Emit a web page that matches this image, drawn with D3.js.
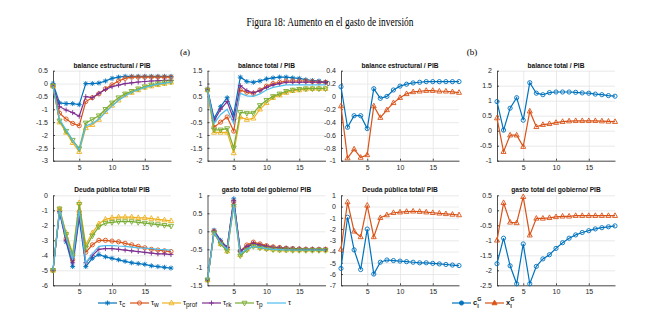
<!DOCTYPE html>
<html>
<head>
<meta charset="utf-8">
<script src="https://cdn.jsdelivr.net/npm/d3@7"></script>
<style>
  body { margin: 0; background: #fff; }
  text { font-family: "Liberation Sans", Arial, sans-serif; }
</style>
</head>
<body>
<div id="chart"></div>
<script>
// periods on the x axis
const periods = [1,2,3,4,5,6,7,8,9,10,11,12,13,14,15,16,17,18,19];
const xTicks = [5, 10, 15];

// panel (a) series order: tau_c, tau_w, tau_prof, tau_rk, tau_p, tau
const seriesA = ["c", "w", "prof", "rk", "p", ""];
const colorsA = ["#0072BD", "#D95319", "#EDB120", "#7E2F8E", "#77AC30", "#4DBEEE"];
const markersA = ["star", "circle", "triUp", "plus", "triDown", "none"];

const balEstA = [
  [0,-0.75,-0.78,-0.78,-0.82,0,0,0.02,0.1,0.2,0.25,0.28,0.28,0.28,0.28,0.28,0.28,0.28,0.28],
  [-0.1,-1.15,-1.38,-1.55,-1.64,-0.7,-0.55,-0.4,-0.2,-0.05,0.1,0.2,0.25,0.25,0.25,0.25,0.25,0.25,0.25],
  [-0.1,-1.5,-1.9,-2.3,-2.65,-1.72,-1.6,-1.4,-1.1,-0.85,-0.65,-0.45,-0.35,-0.25,-0.15,-0.1,-0.05,0,0.05],
  [-0.1,-0.9,-1.03,-1.13,-1.27,-0.51,-0.55,-0.38,-0.23,-0.12,-0.06,0,0.03,0.06,0.08,0.1,0.11,0.12,0.12],
  [-0.1,-1.45,-1.85,-2.2,-2.53,-1.53,-1.4,-1.25,-1.0,-0.75,-0.55,-0.4,-0.3,-0.2,-0.12,-0.05,0,0.04,0.07],
  [-0.1,-1.4,-1.8,-2.2,-2.58,-1.65,-1.55,-1.38,-1.12,-0.88,-0.65,-0.48,-0.34,-0.24,-0.15,-0.08,-0.02,0.02,0.05]
];
const balTotA = [
  [0.78,-0.35,0.1,0.45,-0.2,1.25,1.08,1.05,1.1,1.18,1.22,1.25,1.25,1.22,1.2,1.15,1.12,1.1,1.05],
  [0.75,-0.7,-0.5,-0.3,-0.85,0.75,0.66,0.62,0.75,0.9,1.0,1.05,1.1,1.1,1.1,1.1,1.08,1.05,1.05],
  [0.75,-0.9,-0.9,-0.9,-1.7,-0.3,-0.4,-0.35,0,0.25,0.45,0.55,0.65,0.72,0.75,0.78,0.8,0.8,0.8],
  [0.75,-0.45,0,0.3,-0.4,0.92,0.72,0.64,0.72,0.85,0.95,1.0,1.05,1.05,1.05,1.05,1.05,1.05,1.05],
  [0.75,-0.8,-0.8,-0.75,-1.5,-0.12,-0.15,-0.15,0.15,0.35,0.5,0.6,0.7,0.75,0.78,0.8,0.8,0.8,0.8],
  [0.75,-0.55,-0.2,0,-0.55,0.62,0.52,0.5,0.6,0.75,0.85,0.9,0.95,0.95,0.95,0.95,0.95,0.95,0.95]
];
const deudaA = [
  [-5,-1.1,-3.1,-4.75,-1.5,-4.75,-4.2,-3.95,-4.1,-4.2,-4.3,-4.4,-4.5,-4.55,-4.6,-4.7,-4.75,-4.8,-4.85],
  [-5,-1,-2.9,-4.3,-1.1,-3.8,-3.3,-3.0,-3.0,-3.05,-3.1,-3.2,-3.3,-3.4,-3.5,-3.6,-3.65,-3.7,-3.75],
  [-5,-0.9,-2.5,-3.9,-0.5,-3.3,-2.5,-1.9,-1.6,-1.5,-1.45,-1.45,-1.45,-1.5,-1.5,-1.55,-1.6,-1.65,-1.7],
  [-5,-1.1,-3.0,-4.5,-1.3,-4.5,-4.0,-3.6,-3.55,-3.55,-3.6,-3.65,-3.7,-3.75,-3.8,-3.85,-3.9,-3.9,-3.95],
  [-5,-0.9,-2.6,-4.0,-0.6,-3.5,-2.7,-2.1,-1.85,-1.8,-1.75,-1.75,-1.75,-1.8,-1.85,-1.9,-1.95,-2.0,-2.05],
  [-5,-1,-2.8,-4.3,-1.0,-4.5,-3.9,-3.4,-3.35,-3.35,-3.38,-3.4,-3.45,-3.5,-3.52,-3.55,-3.6,-3.62,-3.65]
];
const gastoA = [
  [-1.35,0.03,-0.25,-0.45,0.9,-0.55,-0.45,-0.35,-0.4,-0.42,-0.45,-0.46,-0.47,-0.48,-0.49,-0.5,-0.5,-0.5,-0.5],
  [-1.35,0,-0.3,-0.45,0.82,-0.55,-0.38,-0.3,-0.35,-0.4,-0.43,-0.45,-0.47,-0.48,-0.49,-0.5,-0.5,-0.5,-0.5],
  [-1.35,-0.05,-0.35,-0.55,0.72,-0.65,-0.5,-0.4,-0.45,-0.48,-0.5,-0.52,-0.52,-0.52,-0.52,-0.52,-0.52,-0.52,-0.52],
  [-1.35,0,-0.28,-0.45,0.85,-0.55,-0.42,-0.33,-0.38,-0.42,-0.45,-0.47,-0.48,-0.49,-0.5,-0.5,-0.5,-0.51,-0.51],
  [-1.35,-0.05,-0.35,-0.55,0.7,-0.68,-0.52,-0.42,-0.46,-0.49,-0.51,-0.52,-0.52,-0.53,-0.53,-0.53,-0.53,-0.53,-0.53],
  [-1.35,-0.03,-0.32,-0.5,0.75,-0.62,-0.5,-0.42,-0.45,-0.48,-0.5,-0.51,-0.52,-0.52,-0.52,-0.52,-0.52,-0.52,-0.52]
];

// panel (b) series order: c_I^G, x_I^G
const colorsB = ["#0072BD", "#D95319"];
const markersB = ["circle", "triUp"];

const balEstB = [
  [0.15,-0.48,-0.3,-0.3,-0.5,0.12,-0.03,0,0.1,0.16,0.19,0.21,0.22,0.23,0.23,0.23,0.23,0.23,0.23],
  [-0.15,-0.96,-0.82,-0.95,-0.91,-0.15,-0.33,-0.21,-0.1,-0.02,0.04,0.07,0.08,0.09,0.09,0.08,0.08,0.07,0.06]
];
const balTotB = [
  [0.97,0.02,0.75,1.1,0.35,1.6,1.25,1.2,1.27,1.29,1.29,1.29,1.28,1.26,1.25,1.22,1.2,1.17,1.15],
  [0.42,-0.7,-0.15,-0.15,-0.53,0.65,0.13,0.2,0.23,0.27,0.3,0.32,0.33,0.33,0.33,0.33,0.32,0.31,0.3]
];
const deudaB = [
  [-5.5,-0.95,-3.85,-5.6,-2.0,-6.0,-4.95,-4.75,-4.8,-4.85,-4.9,-4.95,-5.0,-5.0,-5.05,-5.1,-5.15,-5.2,-5.25],
  [-3.8,0.4,-2.2,-2.7,0.1,-2.7,-1.0,-0.75,-0.55,-0.5,-0.45,-0.42,-0.45,-0.5,-0.55,-0.6,-0.65,-0.7,-0.75]
];
const gastoB = [
  [-1.78,-0.93,-1.85,-2.45,-1.12,-2.45,-1.87,-1.62,-1.48,-1.27,-1.08,-0.93,-0.82,-0.74,-0.68,-0.62,-0.58,-0.55,-0.52],
  [-1.0,0.25,-0.4,-0.42,0.45,-0.83,-0.27,-0.27,-0.25,-0.22,-0.2,-0.2,-0.18,-0.18,-0.18,-0.18,-0.18,-0.18,-0.18]
];

const width = 659, height = 327;
const pw = 118, ph = 90;

const svg = d3.select("#chart").append("svg")
  .attr("width", width).attr("height", height);

function markerPath(type, r) {
  if (type === "circle") return d3.symbol(d3.symbolCircle, Math.PI * r * r)();
  if (type === "triUp") return `M0,${-r * 1.15}L${r},${r * 0.7}L${-r},${r * 0.7}Z`;
  if (type === "triDown") return `M0,${r * 1.15}L${r},${-r * 0.7}L${-r},${-r * 0.7}Z`;
  if (type === "plus") return `M${-r},0L${r},0M0,${-r}L0,${r}`;
  if (type === "star") {
    const d = r * 0.72;
    return `M${-r},0L${r},0M0,${-r}L0,${r}M${-d},${-d}L${d},${d}M${-d},${d}L${d},${-d}`;
  }
  return "";
}

function fmt(v) {
  return String(+v.toFixed(2));
}

function drawPanel(cfg) {
  const g = svg.append("g");
  const x = d3.scaleLinear().domain([1, 19]).range([cfg.left, cfg.left + pw]);
  const y = d3.scaleLinear().domain(cfg.domain).range([cfg.top + ph, cfg.top]);
  const yTicks = d3.range(cfg.domain[0], cfg.domain[1] + cfg.step / 2, cfg.step);

  // grid
  g.append("g").attr("transform", `translate(${cfg.left},0)`)
    .call(d3.axisLeft(y).tickValues(yTicks).tickSize(-pw).tickFormat(""))
    .call(a => a.select(".domain").remove())
    .call(a => a.selectAll("line").attr("stroke", "#e4e4e4").attr("stroke-width", 0.8));
  g.append("g").attr("transform", `translate(0,${cfg.top + ph})`)
    .call(d3.axisBottom(x).tickValues(xTicks).tickSize(-ph).tickFormat(""))
    .call(a => a.select(".domain").remove())
    .call(a => a.selectAll("line").attr("stroke", "#e4e4e4").attr("stroke-width", 0.8));

  // axes
  const ya = g.append("g").attr("transform", `translate(${cfg.left},0)`)
    .call(d3.axisLeft(y).tickValues(yTicks).tickSizeInner(-2).tickSizeOuter(0).tickPadding(5).tickFormat(fmt));
  const xa = g.append("g").attr("transform", `translate(0,${cfg.top + ph})`)
    .call(d3.axisBottom(x).tickValues(xTicks).tickSizeInner(-2).tickSizeOuter(0).tickPadding(4).tickFormat(fmt));
  [ya, xa].forEach(a => {
    a.select(".domain").attr("stroke", "#262626").attr("stroke-width", 0.8);
    a.selectAll(".tick line").attr("stroke", "#262626").attr("stroke-width", 0.8);
    a.selectAll("text").attr("fill", "#262626").style("font-size", "7px");
  });

  g.append("text")
    .attr("x", cfg.left + pw / 2).attr("y", cfg.top - 3)
    .attr("text-anchor", "middle")
    .style("font-size", "6.6px").style("font-weight", "bold")
    .attr("fill", "#111")
    .text(cfg.title);

  const line = d3.line().x((d, i) => x(periods[i])).y(d => y(d));
  cfg.data.forEach((vals, k) => {
    const s = g.append("g");
    s.append("path").datum(vals)
      .attr("d", line)
      .attr("fill", "none")
      .attr("stroke", cfg.colors[k])
      .attr("stroke-width", 1.2);
    if (cfg.markers[k] !== "none") {
      s.selectAll("path.m").data(vals).join("path")
        .attr("class", "m")
        .attr("transform", (d, i) => `translate(${x(periods[i])},${y(d)})`)
        .attr("d", markerPath(cfg.markers[k], cfg.markers[k] === "circle" ? 2.1 : 2.5))
        .attr("fill", "none")
        .attr("stroke", cfg.colors[k])
        .attr("stroke-width", 0.9);
    }
  });
}

const topRow = 70.7, botRow = 195.3;
const colLeft = [53, 207.5, 341, 497];

drawPanel({ left: colLeft[0], top: topRow, domain: [-3, 0.5], step: 0.5, title: "balance estructural / PIB", data: balEstA, colors: colorsA, markers: markersA });
drawPanel({ left: colLeft[1], top: topRow, domain: [-2, 1.5], step: 0.5, title: "balance total / PIB", data: balTotA, colors: colorsA, markers: markersA });
drawPanel({ left: colLeft[2], top: topRow, domain: [-1, 0.4], step: 0.2, title: "balance estructural / PIB", data: balEstB, colors: colorsB, markers: markersB });
drawPanel({ left: colLeft[3], top: topRow, domain: [-1, 2], step: 0.5, title: "balance total / PIB", data: balTotB, colors: colorsB, markers: markersB });
drawPanel({ left: colLeft[0], top: botRow, domain: [-6, 0], step: 1, title: "Deuda pública total/ PIB", data: deudaA, colors: colorsA, markers: markersA });
drawPanel({ left: colLeft[1], top: botRow, domain: [-1.5, 1], step: 0.5, title: "gasto total del gobierno/ PIB", data: gastoA, colors: colorsA, markers: markersA });
drawPanel({ left: colLeft[2], top: botRow, domain: [-7, 1], step: 1, title: "Deuda pública total/ PIB", data: deudaB, colors: colorsB, markers: markersB });
drawPanel({ left: colLeft[3], top: botRow, domain: [-2.5, 0.5], step: 0.5, title: "gasto total del gobierno/ PIB", data: gastoB, colors: colorsB, markers: markersB });

// figure title and sub-labels
svg.append("text")
  .attr("x", 330).attr("y", 26)
  .attr("text-anchor", "middle")
  .style("font-family", "'Liberation Serif', 'DejaVu Serif', serif")
  .style("font-size", "12px")
  .attr("textLength", 167)
  .attr("lengthAdjust", "spacingAndGlyphs")
  .text("Figura 18: Aumento en el gasto de inversión");
[["(a)", 185], ["(b)", 472]].forEach(([t, cx]) => {
  svg.append("text")
    .attr("x", cx).attr("y", 55)
    .attr("text-anchor", "middle")
    .style("font-family", "'Liberation Serif', 'DejaVu Serif', serif")
    .style("font-size", "9px")
    .text(t);
});

// legend (a)
const legY = 303;
const legStartA = [98, 130, 162, 202, 235, 267];
seriesA.forEach((sub, k) => {
  const lx = legStartA[k];
  const item = svg.append("g");
  item.append("line")
    .attr("x1", lx).attr("x2", lx + 19).attr("y1", legY).attr("y2", legY)
    .attr("stroke", colorsA[k]).attr("stroke-width", 1.2);
  if (markersA[k] !== "none") {
    item.append("path")
      .attr("transform", `translate(${lx + 9.5},${legY})`)
      .attr("d", markerPath(markersA[k], markersA[k] === "circle" ? 2.1 : 2.5))
      .attr("fill", "none").attr("stroke", colorsA[k]).attr("stroke-width", 0.9);
  }
  const t = item.append("text")
    .attr("x", lx + 21).attr("y", legY + 2)
    .style("font-size", "7.5px").attr("fill", "#111");
  t.append("tspan").text("τ");
  if (sub) t.append("tspan").attr("dy", 2).style("font-size", "6.5px").text(sub);
});

// legend (b)
const legB = [["c", 452], ["x", 485]];
legB.forEach(([name, bx], k) => {
  const item = svg.append("g");
  item.append("line")
    .attr("x1", bx).attr("x2", bx + 19).attr("y1", legY).attr("y2", legY)
    .attr("stroke", colorsB[k]).attr("stroke-width", 1.2);
  item.append("path")
    .attr("transform", `translate(${bx + 9.5},${legY})`)
    .attr("d", markerPath(markersB[k], markersB[k] === "circle" ? 2.1 : 2.5))
    .attr("fill", colorsB[k]).attr("stroke", colorsB[k]).attr("stroke-width", 0.9);
  const t = item.append("text")
    .attr("x", bx + 21).attr("y", legY + 2)
    .style("font-size", "7.5px").style("font-weight", "bold").attr("fill", "#111");
  t.append("tspan").text(name);
  t.append("tspan").attr("dy", -4).style("font-size", "5.5px").text("G");
  t.append("tspan").attr("x", bx + 25.2).attr("dy", 7).style("font-size", "5.5px").text("I");
});
</script>
</body>
</html>
